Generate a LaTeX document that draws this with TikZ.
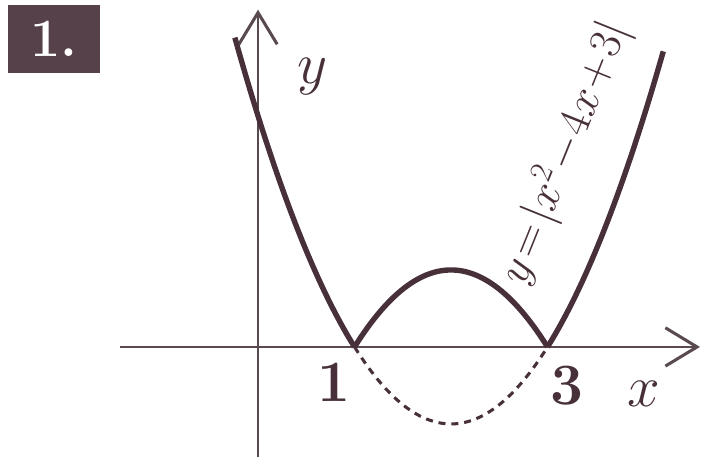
\RequirePackage{fix-cm}
\documentclass[tikz,border=0pt]{standalone}
\usetikzlibrary{arrows.meta,positioning}
\definecolor{ink}{RGB}{72,48,58}
\definecolor{axisgray}{RGB}{88,74,78}
\definecolor{badge}{RGB}{86,64,74}

\begin{document}
\begin{tikzpicture}[
  x=2.895cm, y=2.31cm,
  axis/.style={line width=2.4pt, draw=axisgray, -{Straight Barb[length=0.95cm, width=1.15cm, line width=2.6pt]}},
  curve/.style={line width=4.6pt, draw=ink, line join=round},
  hidden/.style={line width=2.6pt, draw=ink, dash pattern=on 6pt off 5pt},
  axlabel/.style={text=ink, font=\fontsize{50}{56}\selectfont, inner sep=0pt}
]
\useasboundingbox (-2.674,-1.4286) rectangle (4.601,4.506);

% Badge
\node[fill=badge, minimum width=2.76cm, minimum height=2.04cm, inner sep=0pt,
      text=white, font=\fontsize{46}{50}\selectfont\bfseries] (badge) at (-2.114,4.0) {1.};

% Axes
\coordinate (xs) at (-1.43,0);
\coordinate (xe) at (4.58,0);
\coordinate (ys) at (0,-1.43);
\coordinate (ye) at (0,4.38);
\draw[axis] (xs) -- (xe);
\draw[axis] (ys) -- (ye);

% Graph
\draw[curve] plot[domain=-0.24:1, samples=40] (\x,{\x*\x-4*\x+3});
\draw[curve] plot[domain=1:3, samples=60] (\x,{-(\x*\x-4*\x+3)});
\draw[curve] plot[domain=3:4.2, samples=40] (\x,{\x*\x-4*\x+3});
\draw[hidden] plot[domain=1:3, samples=60] (\x,{\x*\x-4*\x+3});

% Labels
\node[axlabel, font=\fontsize{50}{56}\selectfont\bfseries] (one) at (0.788,-0.455) {1};
\node[axlabel, font=\fontsize{50}{56}\selectfont\bfseries] (three) at (3.20,-0.506) {3};
\node[axlabel] (xl) at (4.0,-0.61) {$x$};
\node[axlabel] (yl) at (0.56,3.506) {$y$};
\node[text=ink, font=\fontsize{39}{44}\selectfont, rotate=68, inner sep=0pt] (eq) at (3.175,2.52)
  {$\medmuskip=1mu\thickmuskip=2mu y=|x^2-4x+3|$};
\end{tikzpicture}
\end{document}
